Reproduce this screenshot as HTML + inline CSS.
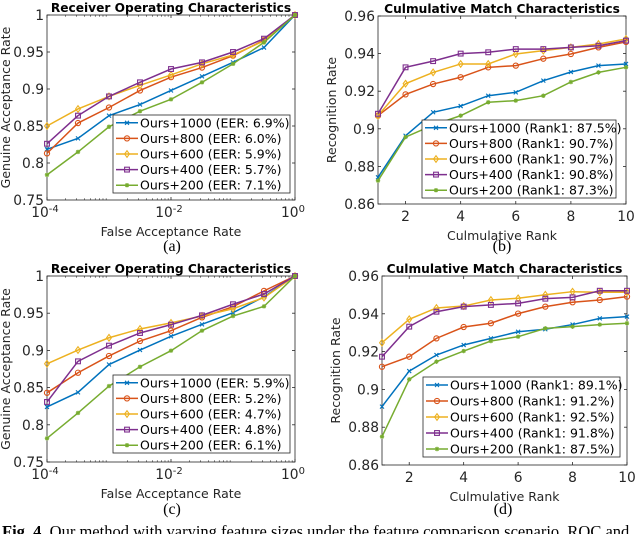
<!DOCTYPE html>
<html><head><meta charset="utf-8">
<style>
html,body{margin:0;padding:0;background:#fff;width:640px;height:534px;overflow:hidden}
svg{display:block}
text{font-family:"DejaVu Sans","Liberation Sans",sans-serif}
.cap{font-family:"Liberation Serif",serif}
</style></head>
<body>
<svg id="fig" width="640" height="534" viewBox="0 0 640 534" xmlns="http://www.w3.org/2000/svg"></svg>
<script>
// ---- data ----
const seriesNames = ["Ours+1000","Ours+800","Ours+600","Ours+400","Ours+200"];
const rocX = [-4,-3.5,-3,-2.5,-2,-1.5,-1,-0.5,0]; // log10 FAR
const rankX = [1,2,3,4,5,6,7,8,9,10];
const rocA_1000 = [0.8185,0.8333,0.864,0.879,0.898,0.917,0.936,0.956,1];
const rocA_800  = [0.813,0.854,0.875,0.898,0.916,0.929,0.945,0.966,1];
const rocA_600  = [0.85,0.873,0.89,0.905,0.919,0.934,0.946,0.965,1];
const rocA_400  = [0.826,0.864,0.89,0.909,0.927,0.936,0.950,0.968,1];
const rocA_200  = [0.784,0.815,0.849,0.870,0.886,0.909,0.934,0.963,1];
const cmcB_1000 = [0.8742,0.8963,0.9088,0.9121,0.9176,0.9194,0.9256,0.9302,0.9336,0.9345];
const cmcB_800  = [0.907,0.9183,0.9238,0.9274,0.9327,0.9336,0.9373,0.9398,0.9433,0.9462];
const cmcB_600  = [0.907,0.924,0.930,0.9345,0.9345,0.9398,0.9416,0.9433,0.9451,0.9478];
const cmcB_400  = [0.908,0.9327,0.936,0.940,0.9407,0.9424,0.9424,0.9433,0.9442,0.9469];
const cmcB_200  = [0.8724,0.8956,0.902,0.907,0.9141,0.915,0.9176,0.9249,0.930,0.9327];
const rocC_1000 = [0.824,0.8436,0.881,0.9005,0.919,0.935,0.9507,0.972,1];
const rocC_800  = [0.843,0.870,0.8925,0.9126,0.9265,0.9444,0.9588,0.980,1];
const rocC_600  = [0.882,0.9005,0.917,0.9288,0.937,0.9462,0.956,0.971,1];
const rocC_400  = [0.8307,0.8853,0.9064,0.9234,0.9346,0.9471,0.962,0.9758,1];
const rocC_200  = [0.7818,0.8159,0.852,0.878,0.8996,0.9265,0.9462,0.9592,1];
const cmcD_1000 = [0.8909,0.9097,0.9182,0.9235,0.927,0.9305,0.9318,0.9343,0.9376,0.9385];
const cmcD_800  = [0.912,0.9173,0.927,0.933,0.935,0.9401,0.9438,0.9461,0.9473,0.9491];
const cmcD_600  = [0.9247,0.9371,0.9431,0.9441,0.9473,0.9482,0.9501,0.9517,0.9514,0.9514];
const cmcD_400  = [0.9173,0.9332,0.9411,0.9438,0.9447,0.9455,0.948,0.9487,0.9522,0.9522];
const cmcD_200  = [0.875,0.9053,0.9147,0.9203,0.9256,0.9279,0.9323,0.9332,0.9343,0.935];
const legendA = ["(EER: 6.9%)","(EER: 6.0%)","(EER: 5.9%)","(EER: 5.7%)","(EER: 7.1%)"];
const legendB = ["(Rank1: 87.5%)","(Rank1: 90.7%)","(Rank1: 90.7%)","(Rank1: 90.8%)","(Rank1: 87.3%)"];
const legendC = ["(EER: 5.9%)","(EER: 5.2%)","(EER: 4.7%)","(EER: 4.8%)","(EER: 6.1%)"];
const legendD = ["(Rank1: 89.1%)","(Rank1: 91.2%)","(Rank1: 92.5%)","(Rank1: 91.8%)","(Rank1: 87.5%)"];
const rocYTicks = [0.75,0.8,0.85,0.9,0.95,1];
const rocYLabels = ["0.75","0.8","0.85","0.9","0.95","1"];
const rocXTicks = [-4,-2,0];
const rocXExp = ["-4","-2","0"];
const cmcYTicks = [0.86,0.88,0.9,0.92,0.94,0.96];
const cmcYLabels = ["0.86","0.88","0.9","0.92","0.94","0.96"];
const cmcXTicks = [2,4,6,8,10];

const colors = ["#0072BD","#D95319","#EDB120","#7E2F8E","#77AC30"];
const markers = ["x","o","d","s","*"];
const NS = "http://www.w3.org/2000/svg";
const svg = document.getElementById('fig');
function mk(tag, attrs, parent, txt){
  const e = document.createElementNS(NS, tag);
  for (const k in attrs) e.setAttribute(k, attrs[k]);
  if (txt !== undefined) e.textContent = txt;
  (parent||svg).appendChild(e);
  return e;
}
function marker(g, type, x, y, c){
  let m;
  if (type==="o") m = mk('circle',{cx:x,cy:y,r:2.6,fill:'none',stroke:c,'stroke-width':1.1},g);
  else if (type==="s") m = mk('rect',{x:x-2.4,y:y-2.4,width:4.8,height:4.8,fill:'none',stroke:c,'stroke-width':1.1},g);
  else if (type==="d") m = mk('path',{d:`M${x} ${y-3.3}L${x+2.4} ${y}L${x} ${y+3.3}L${x-2.4} ${y}Z`,fill:'none',stroke:c,'stroke-width':1.1},g);
  else if (type==="x") m = mk('path',{d:`M${x-2} ${y-2}L${x+2} ${y+2}M${x-2} ${y+2}L${x+2} ${y-2}`,stroke:c,'stroke-width':1.1},g);
  else m = mk('path',{d:`M${x-2.2} ${y}L${x+2.2} ${y}M${x} ${y-2.2}L${x} ${y+2.2}M${x-1.6} ${y-1.6}L${x+1.6} ${y+1.6}M${x-1.6} ${y+1.6}L${x+1.6} ${y-1.6}`,stroke:c,'stroke-width':1.1},g);
  
  
}
function panel(o){
  const g = mk('g',{});
  
  
  const sx = v => o.x0 + (v - o.xmin)/(o.xmax - o.xmin)*(o.x1 - o.x0);
  const sy = v => o.y1 - (v - o.ymin)/(o.ymax - o.ymin)*(o.y1 - o.y0);
  const box = mk('rect',{x:o.x0,y:o.y0,width:o.x1-o.x0,height:o.y1-o.y0,fill:'#fff',stroke:'#262626','stroke-width':0.8},g);
   
  o.yTicks.forEach((v,i)=>{
    const y = sy(v);
    mk('line',{x1:o.x0,x2:o.x0+3,y1:y,y2:y,stroke:'#262626','stroke-width':0.8},g);
    mk('line',{x1:o.x1,x2:o.x1-3,y1:y,y2:y,stroke:'#262626','stroke-width':0.8},g);
    const t = mk('text',{x:o.x0-3,y:y+5,'text-anchor':'end','font-size':13.8,fill:'#262626'},g,o.yLabels[i]);
     
  });
  o.xTicks.forEach((v,i)=>{
    const x = sx(v);
    mk('line',{x1:x,x2:x,y1:o.y1,y2:o.y1-3,stroke:'#262626','stroke-width':0.8},g);
    mk('line',{x1:x,x2:x,y1:o.y0,y2:o.y0+3,stroke:'#262626','stroke-width':0.8},g);
    let t;
    if (o.log){
      t = mk('text',{x:x-2,y:o.y1+17,'text-anchor':'middle','font-size':13.8,fill:'#262626'},g);
      mk('tspan',{},t,'10');
      mk('tspan',{dy:-5,'font-size':10},t,o.xExp[i]);
    } else {
      t = mk('text',{x:x,y:o.y1+17,'text-anchor':'middle','font-size':13.8,fill:'#262626'},g,String(v));
    }
     
  });
  if (o.log){
    for (let d=-4; d<0; d++) for (let k=2;k<10;k++){
      const x = sx(d+Math.log10(k));
      mk('line',{x1:x,x2:x,y1:o.y1,y2:o.y1-1.8,stroke:'#262626','stroke-width':0.6},g);
      mk('line',{x1:x,x2:x,y1:o.y0,y2:o.y0+1.8,stroke:'#262626','stroke-width':0.6},g);
    }
  }
  const tt = mk('text',{x:(o.x0+o.x1)/2,y:o.y0-3,'text-anchor':'middle','font-size':12.2,'font-weight':'bold',fill:'#000'},g,o.title);
   
  const xl = mk('text',{x:(o.x0+o.x1)/2,y:o.y1+36,'text-anchor':'middle','font-size':12.5,fill:'#262626'},g,o.xlabel);
   
  const yc = (o.y0+o.y1)/2;
  const yl = mk('text',{x:o.ylx,y:yc,'text-anchor':'middle','font-size':12.5,fill:'#262626',transform:`rotate(-90 ${o.ylx} ${yc})`},g,o.ylabel);
   
  o.series.forEach((s,i)=>{
    const sg = mk('g',{},g);
    
    
    const pts = s.map((v,j)=>sx(o.xs[j]).toFixed(2)+','+sy(v).toFixed(2)).join(' ');
    const pl = mk('polyline',{points:pts,fill:'none',stroke:colors[i],'stroke-width':1.5},sg);
     
    s.forEach((v,j)=>marker(sg,markers[i],sx(o.xs[j]),sy(v),colors[i]));
  });
  const L = o.legend;
  const lg = mk('g',{},g);
   
  mk('rect',{x:L.x,y:L.y,width:L.w,height:L.h,fill:'#fff',stroke:'#262626','stroke-width':0.8},lg);
  const step = L.h/5;
  o.legendText.forEach((txt,i)=>{
    const y = L.y + step*(i+0.5);
    const e = mk('g',{},lg);
     
    mk('line',{x1:L.x+3,x2:L.x+25,y1:y,y2:y,stroke:colors[i],'stroke-width':1.5},e);
    marker(e,markers[i],L.x+14,y,colors[i]);
    mk('text',{x:L.x+27,y:y+4.5,'font-size':12.5,fill:'#000'},e,seriesNames[i]+' '+txt);
  });
  const sub = mk('text',{x:o.subx,y:o.suby,'text-anchor':'middle','font-size':16,'class':'cap',fill:'#000'},g,o.sub);
   
}
const rocCommon = {xmin:-4,xmax:0,ymin:0.75,ymax:1,log:true,xs:rocX,xTicks:rocXTicks,xExp:rocXExp,yTicks:rocYTicks,yLabels:rocYLabels,
  title:"Receiver Operating Characteristics",xlabel:"False Acceptance Rate",ylabel:"Genuine Acceptance Rate"};
const cmcCommon = {xmin:1,xmax:10,ymin:0.86,ymax:0.96,log:false,xs:rankX,xTicks:cmcXTicks,yTicks:cmcYTicks,yLabels:cmcYLabels,
  title:"Culmulative Match Characteristics",xlabel:"Culmulative Rank",ylabel:"Recognition Rate"};
panel(Object.assign({},rocCommon,{name:'roc-chart-a',x0:47,x1:295,y0:15,y1:200,ylx:10,
  series:[rocA_1000,rocA_800,rocA_600,rocA_400,rocA_200],legendText:legendA,legend:{x:113,y:115,w:177,h:78},sub:"(a)",subx:172,suby:251}));
panel(Object.assign({},cmcCommon,{name:'cmc-chart-b',x0:378,x1:626,y0:16,y1:204,ylx:336,
  series:[cmcB_1000,cmcB_800,cmcB_600,cmcB_400,cmcB_200],legendText:legendB,legend:{x:422,y:120,w:194,h:78},sub:"(b)",subx:502,suby:251}));
panel(Object.assign({},rocCommon,{name:'roc-chart-c',x0:47,x1:295,y0:276,y1:462,ylx:10,
  series:[rocC_1000,rocC_800,rocC_600,rocC_400,rocC_200],legendText:legendC,legend:{x:113,y:375,w:177,h:78},sub:"(c)",subx:172,suby:514}));
panel(Object.assign({},cmcCommon,{name:'cmc-chart-d',x0:382,x1:627,y0:276,y1:465,ylx:340,
  series:[cmcD_1000,cmcD_800,cmcD_600,cmcD_400,cmcD_200],legendText:legendD,legend:{x:423,y:377,w:197,h:80},sub:"(d)",subx:503,suby:514}));
const cap = mk('text',{x:2,y:537,'font-size':16.5,'class':'cap',fill:'#000'});


mk('tspan',{'font-weight':'bold'},cap,'Fig. 4.');
mk('tspan',{},cap,' Our method with varying feature sizes under the feature comparison scenario. ROC and');
</script>
</body></html>
